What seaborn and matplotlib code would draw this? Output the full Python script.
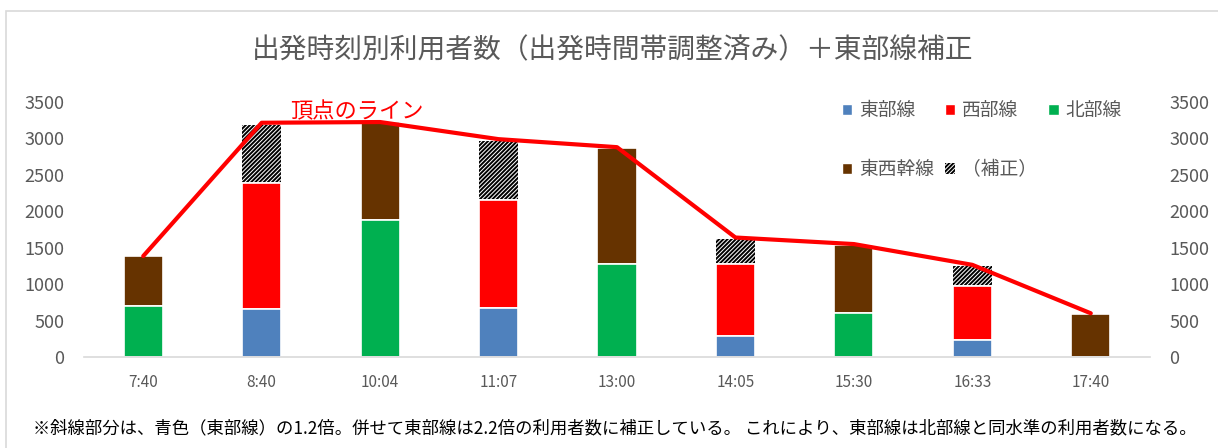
import numpy as np
import matplotlib
matplotlib.use("Agg")
import matplotlib.pyplot as plt
from matplotlib.patches import Patch, Rectangle
import seaborn as sns

# data
times = ["7:40", "8:40", "10:04", "11:07", "13:00", "14:05", "15:30", "16:33", "17:40"]
east = [0, 660, 0, 670, 0, 290, 0, 230, 0]           # 東部線
north = [700, 0, 1880, 0, 1280, 0, 600, 0, 0]        # 北部線
west = [0, 1730, 0, 1490, 0, 980, 0, 740, 0]         # 西部線
trunk = [680, 0, 1340, 0, 1590, 0, 940, 0, 590]      # 東西幹線
correction = [0, 790, 0, 800, 0, 350, 0, 280, 0]     # （補正）
peak_line = [1385, 3215, 3225, 2990, 2880, 1640, 1550, 1265, 600]  # 頂点のライン

sns.set_style("white")
plt.rcParams["font.family"] = ["Noto Sans CJK JP", "DejaVu Sans"]
plt.rcParams["hatch.linewidth"] = 1.4
gray = "#595959"
hatch = "////////"

c_blue, c_red, c_green, c_brown = "#4F81BD", "#FF0000", "#00B050", "#663300"

fig = plt.figure(figsize=(12.18, 4.48), dpi=100)
ax = fig.add_axes([84 / 1218, 91 / 448, (1150 - 84) / 1218, (357 - 102) / 448])

# cumulative stack, drawn from the top layer down
s1 = np.array(east)
s2 = s1 + np.array(north)
s3 = s2 + np.array(west)
s4 = s3 + np.array(trunk)
s5 = s4 + np.array(correction)

bw = 0.33
sns.barplot(x=times, y=s5, color="white", edgecolor="black", linewidth=0,
            hatch=hatch, width=bw, saturation=1, errorbar=None, ax=ax)
for vals, col in [(s4, c_brown), (s3, c_red), (s2, c_green), (s1, c_blue)]:
    sns.barplot(x=times, y=vals, color=col, edgecolor="white", linewidth=1.2,
                width=bw, saturation=1, errorbar=None, ax=ax)

ax.set_ylim(0, 3500)
ax.set_xlim(-0.5, len(times) - 0.5)
ax.set_yticks(range(0, 3501, 500))
ax.set_xlabel("")
ax.set_ylabel("")
for s in ["top", "left", "right"]:
    ax.spines[s].set_visible(False)
ax.spines["bottom"].set_color("#D9D9D9")
ax.spines["bottom"].set_linewidth(1.2)
ax.tick_params(axis="y", length=0, pad=14, labelsize=13, labelcolor=gray)
ax.tick_params(axis="x", length=0, pad=12, labelsize=11, labelcolor=gray)

ax2 = ax.twinx()
sns.lineplot(x=np.arange(len(times)), y=peak_line, color="#FF0000", linewidth=3,
             ax=ax2, zorder=5)
ax2.set_ylim(0, 3500)
ax2.set_yticks(range(0, 3501, 500))
ax2.set_xlim(-0.5, len(times) - 0.5)
ax2.set_ylabel("")
for s in ax2.spines.values():
    s.set_visible(False)
ax2.tick_params(axis="y", length=0, pad=14, labelsize=13, labelcolor=gray)

ax2.text(1.8, 3370, "頂点のライン", color="#FF0000", fontsize=16,
         ha="center", va="center")

handles = [
    Patch(facecolor=c_blue, label="東部線"),
    Patch(facecolor=c_brown, label="東西幹線"),
    Patch(facecolor=c_red, label="西部線"),
    Patch(facecolor="white", edgecolor="black", linewidth=0, hatch=hatch, label="（補正）"),
    Patch(facecolor=c_green, label="北部線"),
]
leg = fig.legend(handles=handles, ncol=3, loc="upper left",
                 bbox_to_anchor=(842 / 1218, 1 - 100 / 448), frameon=False,
                 fontsize=13.5, handlelength=0.55, handleheight=0.55,
                 handletextpad=0.35, columnspacing=0.6, labelspacing=2.05,
                 borderpad=0, borderaxespad=0)
for t in leg.get_texts():
    t.set_color(gray)

fig.text(613 / 1218, 1 - 50 / 448, "出発時刻別利用者数（出発時間帯調整済み）＋東部線補正",
         ha="center", va="center", fontsize=20, color=gray)
fig.text(33 / 1218, 1 - 428 / 448,
         "※斜線部分は、青色（東部線）の1.2倍。併せて東部線は2.2倍の利用者数に補正している。 "
         "これにより、東部線は北部線と同水準の利用者数になる。",
         ha="left", va="center", fontsize=12.5, color="black")

# chart frame
fig.patches.append(Rectangle((6 / 1218, -0.1), 1.2, 1 - 11 / 448 + 0.1, fill=False,
                             edgecolor="#D9D9D9", linewidth=1.2,
                             transform=fig.transFigure, figure=fig))

fig.savefig("out.png", dpi=100)
